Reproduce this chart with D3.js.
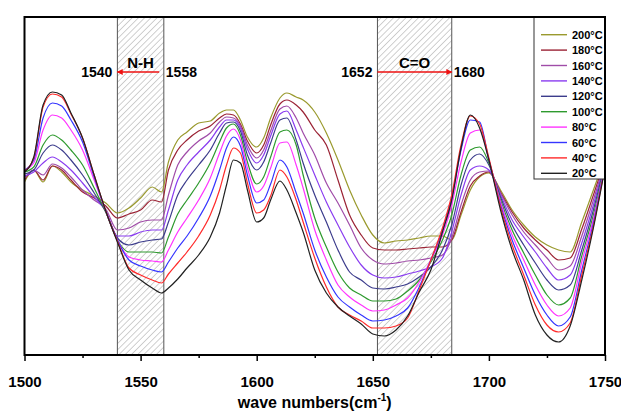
<!DOCTYPE html>
<html><head><meta charset="utf-8">
<script src="https://cdn.jsdelivr.net/npm/d3@7"></script>
<style>
body{margin:0;background:#fff;}
text{font-family:"Liberation Sans",Arial,sans-serif;font-weight:bold;}
</style>
</head><body>
<svg id="chart" width="621" height="411"></svg>
<script>
// ---- data ----
const wavenumbers = [1500,1504,1508,1512,1516,1520,1525,1530,1535,1540,1545,1550,1555,1559,1562,1566,1570,1575,1580,1584,1587,1590,1593,1596,1600,1603,1606,1610,1613,1617,1620,1625,1630,1635,1640,1645,1650,1655,1660,1665,1670,1675,1680,1684,1688,1692,1696,1700,1705,1710,1715,1720,1725,1730,1735,1740,1745,1750];

const t20  = [.183,.198,.250,.263,.260,.242,.217,.180,.144,.113, .085,.075,.067,.062,.067,.076,.087,.100,.118,.142, .170,.195,.192,.165,.133,.137,.155,.174,.165,.142, .123,.085,.062,.048,.039,.031,.021,.019,.025,.039, .063,.085,.123,.155,.207,.240,.227,.195,.145,.105, .075,.040,.020,.013,.029,.075,.127,.187];
const t40  = [.184,.197,.248,.261,.258,.241,.217,.180,.144,.114, .087,.080,.075,.072,.081,.092,.103,.119,.140,.165, .190,.207,.202,.172,.142,.145,.159,.185,.178,.155, .133,.097,.068,.048,.040,.034,.027,.027,.029,.037, .065,.095,.127,.160,.210,.239,.231,.197,.148,.110, .080,.050,.030,.023,.032,.080,.129,.188];
const t60  = [.185,.195,.237,.252,.249,.235,.213,.178,.144,.115, .095,.089,.085,.083,.093,.107,.119,.137,.159,.185, .207,.218,.209,.180,.152,.155,.171,.195,.188,.162, .142,.105,.078,.058,.048,.040,.034,.035,.039,.047, .068,.095,.125,.157,.205,.235,.233,.195,.150,.115, .087,.060,.040,.029,.038,.085,.132,.189];
const t80  = [.185,.192,.225,.240,.237,.225,.205,.175,.144,.115, .098,.095,.094,.093,.105,.123,.137,.155,.177,.202, .219,.226,.215,.187,.163,.169,.187,.212,.213,.190, .167,.125,.095,.070,.058,.050,.044,.045,.050,.057, .073,.095,.120,.150,.193,.222,.225,.195,.153,.120, .095,.070,.050,.039,.047,.093,.136,.190];
const t100 = [.183,.188,.210,.220,.215,.205,.190,.167,.143,.115, .103,.103,.103,.102,.118,.141,.155,.172,.192,.213, .227,.231,.220,.193,.171,.178,.198,.223,.225,.210, .180,.137,.108,.083,.067,.060,.054,.054,.056,.064, .075,.093,.115,.140,.180,.205,.208,.192,.155,.125, .102,.080,.060,.050,.057,.099,.140,.191];
const t120 = [.181,.185,.202,.210,.205,.195,.180,.162,.143,.117, .110,.113,.115,.116,.133,.160,.175,.190,.205,.222, .232,.233,.224,.200,.185,.193,.212,.235,.237,.215, .192,.160,.133,.105,.083,.075,.067,.066,.068,.071, .078,.088,.105,.130,.170,.195,.201,.190,.158,.130, .110,.092,.075,.065,.070,.105,.145,.192];
const t140 = [.179,.183,.192,.198,.193,.185,.172,.158,.144,.119, .119,.123,.125,.125,.145,.175,.190,.203,.215,.228, .235,.235,.227,.206,.192,.200,.219,.241,.244,.225, .208,.180,.153,.130,.108,.090,.080,.077,.078,.081, .084,.088,.097,.123,.160,.185,.189,.185,.160,.135, .118,.103,.087,.075,.080,.112,.150,.193];
const t160 = [.177,.185,.180,.191,.187,.178,.165,.155,.146,.125, .127,.133,.135,.135,.160,.190,.203,.214,.222,.233, .238,.237,.229,.210,.197,.205,.224,.246,.249,.237, .222,.200,.172,.152,.130,.107,.095,.091,.092,.094, .095,.097,.100,.117,.150,.175,.183,.184,.162,.140, .123,.110,.097,.085,.089,.119,.155,.194];
const t180 = [.175,.185,.175,.189,.185,.175,.163,.157,.149,.137, .141,.145,.155,.153,.185,.205,.215,.224,.229,.237, .241,.240,.231,.214,.202,.210,.230,.251,.255,.250, .243,.225,.210,.175,.140,.120,.107,.105,.105,.106, .107,.108,.108,.115,.143,.169,.179,.183,.163,.143, .127,.115,.105,.095,.097,.126,.160,.195];
const t200 = [.173,.185,.173,.189,.183,.173,.165,.159,.152,.142, .147,.157,.168,.163,.193,.215,.223,.232,.234,.242, .245,.245,.235,.218,.208,.217,.237,.257,.262,.258, .255,.243,.222,.195,.165,.140,.120,.112,.114,.115, .117,.119,.119,.115,.140,.165,.178,.182,.165,.145, .130,.118,.110,.105,.103,.133,.165,.197];

const seriesLabels = ["200°C","180°C","160°C","140°C","120°C","100°C","80°C","60°C","40°C","20°C"];
const seriesValues = [t200,t180,t160,t140,t120,t100,t80,t60,t40,t20];
const seriesColors = ["#9a9a2e","#9b2335","#a04ca8","#8a3cf0","#3c3c8c","#2e9a2e","#ff33ff","#3535ff","#ff2a2a","#222222"];

const xTicks = [1500,1550,1600,1650,1700,1750];
const xMinorTicks = [1525,1575,1625,1675,1725];

const bands = [
  {from:1540, to:1560, label:"N-H", leftText:"1540", rightText:"1558", arrowFrom:1558, arrowTo:1540},
  {from:1652, to:1684, label:"C=O", leftText:"1652", rightText:"1680", arrowFrom:1652, arrowTo:1684}
];

// ---- layout ----
const svg = d3.select("#chart");
const L = 24.5, R = 605, T = 17, B = 355;
const x = d3.scaleLinear().domain([1500,1750]).range([L,R]);
const y = d3.scaleLinear().domain([0,0.338]).range([B,T]);

const defs = svg.append("defs");
const pat = defs.append("pattern").attr("id","hatch").attr("patternUnits","userSpaceOnUse")
  .attr("width",4.4).attr("height",4.4).attr("patternTransform","rotate(45)");
pat.append("line").attr("x1",0).attr("y1",0).attr("x2",0).attr("y2",4.4)
  .attr("stroke","#8a8a8a").attr("stroke-width",0.8);
defs.append("clipPath").attr("id","clip").append("rect")
  .attr("x",L).attr("y",T).attr("width",R-L).attr("height",B-T);
const mk = defs.append("marker").attr("id","arrow").attr("viewBox","0 0 10 10")
  .attr("refX",9).attr("refY",5).attr("markerWidth",7).attr("markerHeight",6)
  .attr("markerUnits","userSpaceOnUse").attr("orient","auto");
mk.append("path").attr("d","M0,0L10,5L0,10Z").attr("fill","#ee1111");

// hatched bands
bands.forEach(b=>{
  svg.append("rect").attr("x",x(b.from)).attr("y",T).attr("width",x(b.to)-x(b.from)).attr("height",B-T)
    .attr("fill","url(#hatch)").attr("stroke","#555").attr("stroke-width",1);
});

// curves
const line = d3.line().x((d,i)=>x(wavenumbers[i])).y(d=>y(d)).curve(d3.curveMonotoneX);
const g = svg.append("g").attr("clip-path","url(#clip)");
seriesValues.forEach((vals,k)=>{
  g.append("path").attr("d",line(vals)).attr("fill","none")
    .attr("stroke",seriesColors[k]).attr("stroke-width",1.2);
});

// annotations
bands.forEach(b=>{
  const cx = (x(b.from)+x(b.to))/2;
  svg.append("text").attr("x",cx).attr("y",68).attr("text-anchor","middle")
    .attr("font-size",15).text(b.label);
  svg.append("text").attr("x",x(b.from)-5).attr("y",77).attr("text-anchor","end")
    .attr("font-size",14).text(b.leftText);
  svg.append("text").attr("x",x(b.to)+2).attr("y",77).attr("text-anchor","start")
    .attr("font-size",14).text(b.rightText);
  svg.append("line").attr("x1",x(b.arrowFrom)).attr("x2",x(b.arrowTo)).attr("y1",72).attr("y2",72)
    .attr("stroke","#ee1111").attr("stroke-width",1.5).attr("marker-end","url(#arrow)");
});

// legend
const lgX = 534, lgY = T, lgW = R-534, lgH = 162;
svg.append("rect").attr("x",lgX).attr("y",lgY).attr("width",lgW).attr("height",lgH)
  .attr("fill","#fff").attr("stroke","#333").attr("stroke-width",1);
seriesLabels.forEach((lab,k)=>{
  const yy = 34.7 + k*15.4;
  svg.append("line").attr("x1",541).attr("x2",567).attr("y1",yy).attr("y2",yy)
    .attr("stroke",seriesColors[k]).attr("stroke-width",1.4);
  svg.append("text").attr("x",572).attr("y",yy+4).attr("font-size",11).text(lab);
});

// frame
svg.append("rect").attr("x",L).attr("y",T).attr("width",R-L).attr("height",B-T)
  .attr("fill","none").attr("stroke","#000").attr("stroke-width",2);

// x axis
const ax = svg.append("g").attr("transform",`translate(0,${B})`)
  .call(d3.axisBottom(x).tickValues(xTicks).tickSize(6).tickPadding(15).tickFormat(d3.format("d")));
ax.select(".domain").remove();
ax.selectAll(".tick line").attr("stroke","#000").attr("stroke-width",1.5);
ax.selectAll(".tick text").attr("font-size",15).attr("fill","#000")
  .style("font-family","'Liberation Sans',Arial,sans-serif").style("font-weight","bold");
const axm = svg.append("g").attr("transform",`translate(0,${B})`)
  .call(d3.axisBottom(x).tickValues(xMinorTicks).tickSize(3).tickFormat(""));
axm.select(".domain").remove();
axm.selectAll(".tick line").attr("stroke","#000").attr("stroke-width",1.5);

// axis title
const tt = svg.append("text").attr("x",(L+R)/2).attr("y",408).attr("text-anchor","middle").attr("font-size",16);
tt.append("tspan").text("wave numbers(cm");
tt.append("tspan").attr("font-size",10).attr("dy",-7).text("-1");
tt.append("tspan").attr("dy",7).text(")");
</script>
</body></html>
